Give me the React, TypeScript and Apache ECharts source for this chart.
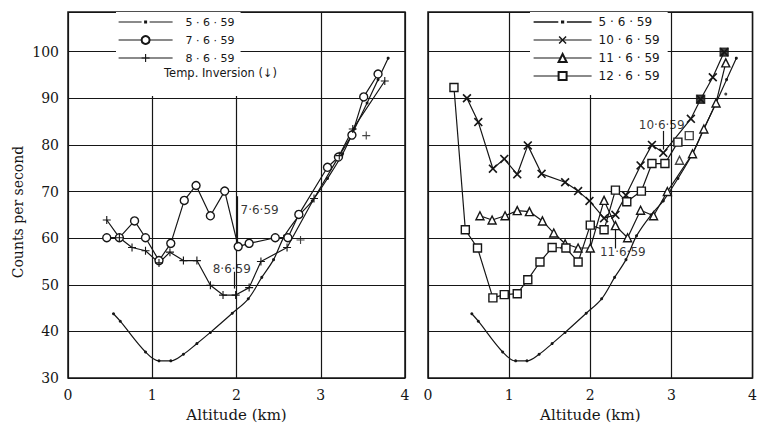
import React, { useEffect, useRef } from 'react';
import * as echarts from 'echarts';

// ---------- data ----------
const xTicks = [0, 1, 2, 3, 4];
const yTicks = [30, 40, 50, 60, 70, 80, 90, 100];

const N5 = '5 · 6 · 59';
const N7 = '7 · 6 · 59';
const N8 = '8 · 6 · 59';
const N10 = '10 · 6 · 59';
const N11 = '11 · 6 · 59';
const N12 = '12 · 6 · 59';

// 5.6.59 reference curve (both panels)
const s5 = [
  [0.54, 43.8], [0.62, 42.2], [0.92, 35.6], [1.08, 33.7], [1.22, 33.7], [1.37, 35.1],
  [1.53, 37.4], [1.69, 39.8], [1.95, 43.9], [2.14, 47.0], [2.30, 51.6], [2.44, 55.4],
  [2.57, 60.5], [2.75, 65.0], [2.90, 68.0], [3.08, 72.8], [3.26, 78.1], [3.40, 83.4],
  [3.55, 89.0], [3.68, 94.0], [3.80, 98.6],
];
const s5Extra = [[3.67, 90.9]];

// left panel
const s7 = [
  [0.46, 60.1], [0.61, 60.1], [0.79, 63.7], [0.92, 60.1], [1.08, 55.2], [1.22, 58.9],
  [1.38, 68.1], [1.52, 71.3], [1.69, 64.8], [1.86, 70.1], [2.02, 58.2], [2.15, 58.9],
  [2.46, 60.1], [2.61, 60.1], [2.74, 65.1], [3.08, 75.2], [3.21, 77.4], [3.37, 82.1],
  [3.51, 90.3], [3.68, 95.2],
];
const s8 = [
  [0.46, 63.9], [0.61, 60.1], [0.76, 58.0], [0.92, 57.3], [1.08, 54.7], [1.21, 57.0],
  [1.37, 55.2], [1.53, 55.2], [1.69, 49.9], [1.84, 47.8], [1.99, 47.8], [2.15, 49.4],
  [2.29, 55.0], [2.60, 58.0], [2.92, 68.5], [3.22, 77.7], [3.38, 83.4], [3.76, 93.7],
];
const s8Extra = [[2.76, 59.6], [3.54, 82.0]];

// right panel
const s10 = [
  [0.48, 90.0], [0.62, 84.9], [0.80, 74.9], [0.94, 77.0], [1.10, 73.7], [1.23, 79.9],
  [1.40, 73.8], [1.69, 72.0], [1.85, 70.1], [1.99, 68.0], [2.17, 64.3], [2.31, 65.0],
  [2.44, 69.2], [2.62, 75.6], [2.76, 80.0], [2.90, 78.3], [3.24, 85.6], [3.36, 89.8],
  [3.51, 94.5], [3.65, 99.9],
];
const s11 = [
  [0.64, 64.8], [0.79, 63.9], [0.95, 64.8], [1.10, 65.9], [1.25, 65.7], [1.41, 63.7],
  [1.55, 61.1], [1.69, 58.8], [1.85, 57.9], [2.00, 57.9], [2.17, 68.1], [2.31, 62.7],
  [2.46, 60.1], [2.62, 66.0], [2.78, 64.8], [2.95, 70.0], [3.26, 78.1], [3.40, 83.4],
  [3.55, 89.0], [3.67, 97.6],
];
const s11Extra = [[3.10, 76.7]];
const s12 = [
  [0.32, 92.3], [0.46, 61.8], [0.61, 57.9], [0.80, 47.2], [0.94, 47.9], [1.10, 48.1],
  [1.23, 51.1], [1.38, 54.9], [1.53, 58.0], [1.70, 57.9], [1.85, 54.9], [2.00, 62.8],
  [2.17, 61.8], [2.31, 70.3], [2.45, 67.8], [2.63, 70.1], [2.76, 76.0], [2.92, 76.0],
  [3.08, 80.6],
];
const s12Extra = [[3.22, 82.0]];
const s12Filled = [[3.36, 89.8], [3.65, 99.9]];

// temperature-inversion annotations (data coordinates)
const noteTexts = [
  { panel: 0, text: '7·6·59', x: 2.03, y: 66.0 },
  { panel: 0, text: '8·6·59', x: 1.70, y: 53.4 },
  { panel: 1, text: '10·6·59', x: 2.58, y: 84.2 },
  { panel: 1, text: '11·6·59', x: 2.10, y: 57.0 },
];
const noteArrows = [
  { panel: 0, x: 2.01, from: 69.0, to: 58.9 },
  { panel: 0, x: 1.97, from: 52.8, to: 49.2 },
  { panel: 1, x: 2.90, from: 83.0, to: 79.0 },
  { panel: 1, x: 2.31, from: 57.8, to: 62.0 },
];

// ---------- styling ----------
const ink = '#161616';
const serif = 'DejaVu Serif';
const sans = 'DejaVu Sans';
const PLUS = 'path://M4.3,0H5.7V4.3H10V5.7H5.7V10H4.3V5.7H0V4.3H4.3Z';
const XSYM = 'path://M0,1.3L1.3,0L5,3.7L8.7,0L10,1.3L6.3,5L10,8.7L8.7,10L5,6.3L1.3,10L0,8.7L3.7,5Z';
const DOTLINE = 'path://M0,4.4H23V5.6H0Z M25.5,3.6H28.5V6.4H25.5Z M31,4.4H54V5.6H31Z';

function mk(name: string, data: number[][], panel: number, symbol: string, size: number, hollow: boolean, opts: any = {}) {
  return {
    type: 'line',
    name,
    data,
    xAxisIndex: panel,
    yAxisIndex: panel,
    symbol,
    symbolSize: size,
    showSymbol: true,
    lineStyle: { color: ink, width: 1.2 },
    itemStyle: hollow
      ? { color: '#fff', borderColor: ink, borderWidth: 1.4 }
      : { color: ink, borderWidth: 0 },
    emphasis: { disabled: true },
    z: 3,
    ...opts,
  };
}

function scat(name: string, data: number[][], panel: number, symbol: string, size: number, hollow: boolean, fill?: string) {
  return {
    type: 'scatter',
    name,
    data,
    xAxisIndex: panel,
    yAxisIndex: panel,
    symbol,
    symbolSize: size,
    itemStyle: hollow
      ? { color: fill || '#fff', borderColor: ink, borderWidth: 1.4 }
      : { color: ink, borderWidth: 0 },
    emphasis: { disabled: true },
    z: 4,
  };
}

function notesSeries(panel: number) {
  return {
    type: 'scatter',
    name: 'notes' + panel,
    xAxisIndex: panel,
    yAxisIndex: panel,
    symbolSize: 1,
    itemStyle: { color: 'rgba(0,0,0,0)' },
    silent: true,
    z: 6,
    data: noteTexts.filter((n) => n.panel === panel).map((n) => ({ value: [n.x, n.y], name: n.text })),
    label: {
      show: true,
      position: 'right',
      distance: 1,
      formatter: '{b}',
      fontFamily: sans,
      fontSize: 12,
      color: '#000',
      textBorderWidth: 0,
    },
    markLine: {
      silent: true,
      symbol: ['none', 'arrow'],
      symbolSize: [0, 7],
      lineStyle: { color: ink, width: 1.2, type: 'solid' },
      label: { show: false },
      data: noteArrows
        .filter((a) => a.panel === panel)
        .map((a) => [{ coord: [a.x, a.from] }, { coord: [a.x, a.to] }]),
    },
  };
}

function xAxis(panel: number) {
  return {
    type: 'value',
    gridIndex: panel,
    min: xTicks[0],
    max: xTicks[xTicks.length - 1],
    interval: 1,
    axisLine: { show: false },
    axisTick: { show: false },
    axisLabel: { fontFamily: serif, fontSize: 14, color: ink, margin: 10 },
    splitLine: { show: true, lineStyle: { color: ink, width: 1.2 } },
    name: 'Altitude (km)',
    nameLocation: 'middle',
    nameGap: 27,
    nameTextStyle: { fontFamily: serif, fontSize: 15, color: ink },
  };
}

function yAxis(panel: number) {
  return {
    type: 'value',
    gridIndex: panel,
    min: yTicks[0],
    max: 108.5,
    interval: 10,
    axisLine: { show: false },
    axisTick: { show: false },
    axisLabel: {
      show: panel === 0,
      fontFamily: serif,
      fontSize: 14,
      color: ink,
      margin: 9,
      formatter: (v: number) => (yTicks.includes(v) ? String(v) : ''),
    },
    splitLine: { show: true, lineStyle: { color: ink, width: 1.2 } },
  };
}

const legendCommon = {
  orient: 'vertical',
  backgroundColor: '#fff',
  itemHeight: 10,
  itemGap: 4,
  selectedMode: false,
  lineStyle: { width: 1.2 },
  z: 5,
};

export default function App() {
  const ref = useRef<HTMLDivElement>(null);
  useEffect(() => {
    if (!ref.current) return;
    const chart = echarts.init(ref.current, undefined, { renderer: 'svg' });
    const option: any = {
      animation: false,
      backgroundColor: '#fff',
      grid: [
        { left: 68, top: 12, width: 337, height: 369, show: true, borderColor: ink, borderWidth: 1.5, backgroundColor: 'transparent' },
        { left: 428, top: 12, width: 337, height: 369, show: true, borderColor: ink, borderWidth: 1.5, backgroundColor: 'transparent' },
      ],
      xAxis: [xAxis(0), xAxis(1)],
      yAxis: [yAxis(0), yAxis(1)],
      legend: [
        {
          ...legendCommon,
          left: 116,
          top: 12,
          padding: [3, 6, 31, 2],
          itemWidth: 54,
          textStyle: { fontFamily: sans, fontSize: 11, color: ink, lineHeight: 14, padding: [0, 0, 0, 8] },
          data: [{ name: N5, icon: DOTLINE }, N7, N8],
        },
        {
          ...legendCommon,
          left: 530,
          top: 12,
          padding: [3, 8, 12, 3],
          itemWidth: 58,
          textStyle: { fontFamily: sans, fontSize: 12, color: ink, lineHeight: 14, padding: [0, 0, 0, 2] },
          data: [{ name: N5, icon: DOTLINE }, N10, N11, N12],
        },
      ],
      graphic: [
        {
          type: 'text',
          left: 164,
          top: 67,
          z: 20,
          style: { text: 'Temp. Inversion (↓)', font: `11.5px "${sans}"`, fill: ink },
        },
        {
          type: 'text',
          x: 18,
          y: 212,
          rotation: Math.PI / 2,
          z: 20,
          style: {
            text: 'Counts per second',
            font: `14px "${serif}"`,
            fill: ink,
            align: 'center',
            verticalAlign: 'middle',
          },
        },
      ],
      series: [
        mk(N5, s5, 0, 'circle', 3, false, { smooth: 0.35 }),
        mk(N7, s7, 0, 'circle', 8, true),
        mk(N8, s8, 0, PLUS, 8, false),
        scat(N8, s8Extra, 0, PLUS, 8, false),
        mk(N5, s5, 1, 'circle', 3, false, { smooth: 0.35 }),
        scat(N5, s5Extra, 1, 'circle', 3, false),
        mk(N10, s10, 1, XSYM, 9, false),
        mk(N11, s11, 1, 'triangle', 8, true),
        scat(N11, s11Extra, 1, 'triangle', 8, true),
        mk(N12, s12, 1, 'rect', 8, true),
        scat(N12, s12Extra, 1, 'rect', 8, true),
        scat(N12, s12Filled, 1, 'rect', 8, true, ink),
        notesSeries(0),
        notesSeries(1),
      ],
    };
    chart.setOption(option);
    return () => chart.dispose();
  }, []);
  return (
    <div
      ref={ref}
      style={{ position: 'fixed', left: 0, top: 0, width: 760, height: 427, background: '#fff' }}
    />
  );
}
